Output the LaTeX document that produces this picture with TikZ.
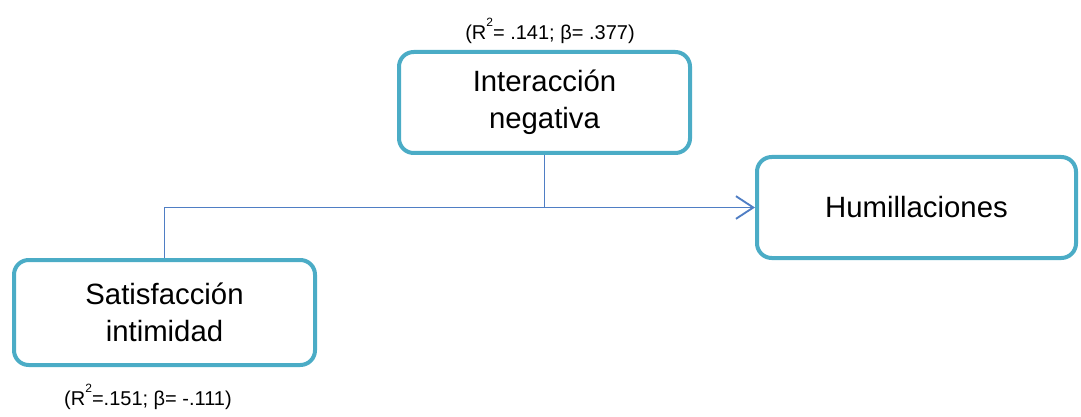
\documentclass[tikz,border=0pt]{standalone}
\usepackage{fontspec}
\setmainfont{Liberation Sans}
\usetikzlibrary{arrows.meta, positioning}
\definecolor{boxteal}{HTML}{4BACC6}
\definecolor{linkblue}{HTML}{4F7EC4}
\newcommand{\sqr}{\raisebox{1.3ex}{\fontsize{9}{9}\selectfont 2}}

\begin{document}
\begin{tikzpicture}[
  x=0.75pt, y=-0.75pt,
  var/.style={draw=boxteal, line width=3pt, rounded corners=11pt, align=center,
              font=\fontsize{22}{27.5}\selectfont, inner sep=0pt},
  stat/.style={font=\fontsize{15}{18}\selectfont, inner sep=0pt},
  link/.style={draw=linkblue, line width=1.4pt},
  >={Straight Barb[length=13pt, width=17pt, line width=1.4pt]}
]
\useasboundingbox (0,0) rectangle (1081,417);
\node[var, minimum width=291*0.75pt, minimum height=101*0.75pt] (inter) at (544.5,102.5) {Interacción\\negativa};
\node[var, minimum width=301*0.75pt, minimum height=105*0.75pt] (satis) at (164.5,312.5) {Satisfacción\\intimidad};
\node[var, minimum width=319*0.75pt, minimum height=101*0.75pt] (humil) at (916.5,207.5) {Humillaciones};
\node[stat] (rinter) at (550,31) {(R\sqr= .141; β= .377)};
\node[stat] (rsatis) at (148,397) {(R\sqr=.151; β= -.111)};
\draw[link, ->] (satis.north) |- (humil.west);
\draw[link] (inter.south) -- (inter.south |- humil.west);
\end{tikzpicture}
\end{document}
